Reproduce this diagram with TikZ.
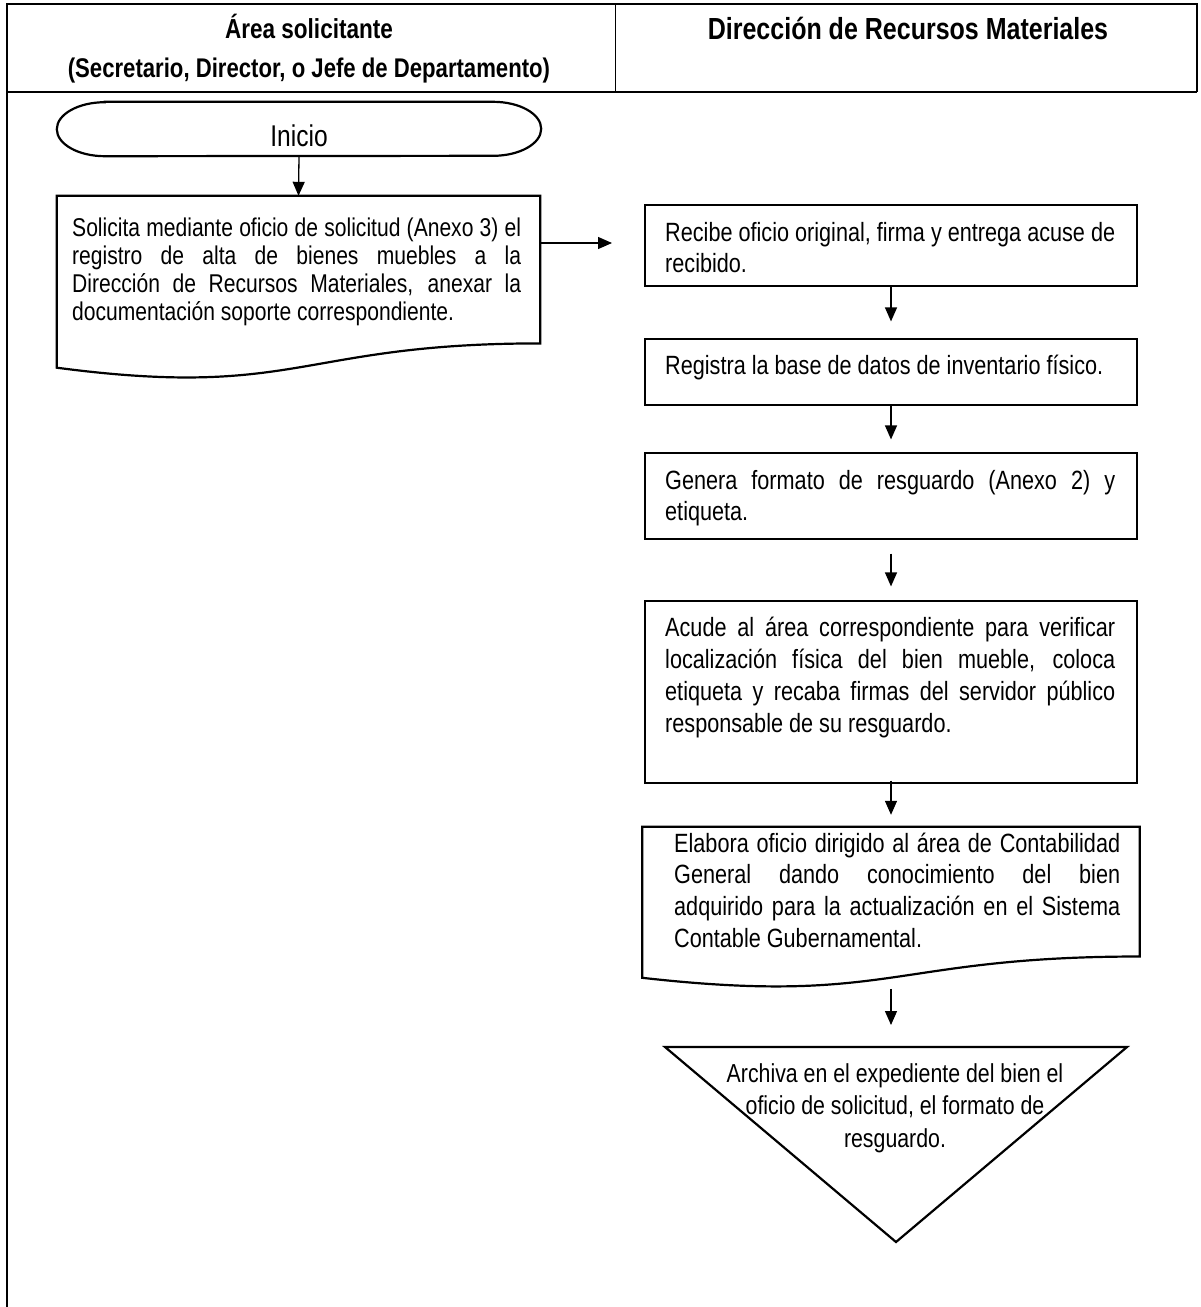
\documentclass[tikz,border=0pt]{standalone}
\usepackage{fontspec}
\setmainfont{Liberation Sans}[FakeStretch=0.82]
\usetikzlibrary{arrows.meta,positioning,calc}

\begin{document}
\begin{tikzpicture}[x=1pt,y=-1pt,
  font=\fontsize{26.4}{31.5}\selectfont,
  >={Triangle[length=14pt,width=12pt]},
  tableline/.style={line width=2.4pt},
  lane/.style={font=\bfseries\fontsize{27}{30}\selectfont,inner sep=0pt},
  stepbox/.style={draw,line width=1.2pt,inner sep=0pt,minimum width=492pt},
  outline/.style={line width=2.2pt},
  steptext/.style={anchor=base west,inner sep=0pt,text width=450pt,align=justify},
  flow/.style={->,line width=1.3pt}
]
\useasboundingbox (0,0) rectangle (1200,1307);
% table frame and lane titles
\draw[tableline] (7,1307) -- (7,4) -- (1197,4) -- (1197,92);
\draw[tableline] (7,92) -- (1197,92);
\draw[line width=1pt] (615,4) -- (615,92);
\node[lane,font=\bfseries\fontsize{27.5}{30}\selectfont] (area) at (309,26) {Área solicitante};
\node[lane] (cargo) at (309,71) {(Secretario, Director, o Jefe de Departamento)};
\node[lane,font=\bfseries\fontsize{30.5}{32}\selectfont] (drm) at (908,28) {Dirección de Recursos Materiales};

% left lane
\node[minimum width=484pt,minimum height=54pt,inner sep=0pt] (inicio) at (299,129) {};
\draw[outline] ([xshift=48pt]inicio.north west) -- ([xshift=-48pt]inicio.north east)
  arc[start angle=90,end angle=-90,x radius=48pt,y radius=27pt]
  -- ([xshift=48pt]inicio.south west)
  arc[start angle=270,end angle=90,x radius=48pt,y radius=27pt] -- cycle;
\node[anchor=base,inner sep=0pt,font=\fontsize{30}{32}\selectfont] (iniciotxt) at (299,146) {Inicio};
\node[minimum width=483pt,minimum height=184pt,inner sep=0pt] (sol) at (298.5,288) {};
\draw[outline] ($(sol.north west)+(0,171.9)$) -- (sol.north west) -- (sol.north east)
  -- ($(sol.north east)+(0,147.6)$)
  .. controls ($(sol.north)+(0,147.6)$) and ($(sol.north)+(0,203.7)$) .. ($(sol.north west)+(0,171.9)$) -- cycle;
\node[steptext,text width=449pt,font=\fontsize{25.7}{28.3}\selectfont] (soltxt) at (72,236)
  {Solicita mediante oficio de solicitud (Anexo 3) el\linebreak registro de alta de bienes muebles a la\linebreak Dirección de Recursos Materiales, anexar la\linebreak documentación soporte correspondiente.};

% right lane
\coordinate (entrada) at (612,243);
\node[stepbox,minimum height=81pt] (recibe) at (891,245.5) {};
\node[steptext] (recibetxt) at (665,241)
  {Recibe oficio original, firma y entrega acuse de\linebreak recibido.};
\node[stepbox,minimum height=66pt] (registra) at (891,372) {};
\node[steptext] (registratxt) at (665,374) {Registra la base de datos de inventario físico.};
\node[stepbox,minimum height=86pt] (genera) at (891,496) {};
\node[steptext] (generatxt) at (665,489)
  {Genera formato de resguardo (Anexo 2) y\linebreak etiqueta.};
\node[stepbox,minimum height=182pt] (acude) at (891,692) {};
\node[steptext,font=\fontsize{26.4}{32}\selectfont] (acudetxt) at (665,636)
  {Acude al área correspondiente para verificar\linebreak localización física del bien mueble, coloca\linebreak etiqueta y recaba firmas del servidor público\linebreak responsable de su resguardo.};
\node[minimum width=497pt,minimum height=161.7pt,inner sep=0pt] (elabora) at (891,907.85) {};
\draw[outline] ($(elabora.north west)+(0,151)$) -- (elabora.north west) -- (elabora.north east)
  -- ($(elabora.north east)+(0,129.7)$)
  .. controls ($(elabora.north)+(0,129.7)$) and ($(elabora.north)+(0,179)$) .. ($(elabora.north west)+(0,151)$) -- cycle;
\node[steptext,text width=446pt,font=\fontsize{26.4}{31.7}\selectfont] (elaboratxt) at (674,852)
  {Elabora oficio dirigido al área de Contabilidad\linebreak General dando conocimiento del bien\linebreak adquirido para la actualización en el Sistema\linebreak Contable Gubernamental.};
\coordinate (archiva) at (895,1047);
\draw[outline] ($(archiva)+(-230,0)$) -- ($(archiva)+(232,0)$) -- ($(archiva)+(1,195)$) -- cycle;
\node[anchor=north,inner sep=0pt,align=center,font=\fontsize{26}{32.5}\selectfont] (archivatxt) at (895,1063)
  {Archiva en el expediente del bien el\\oficio de solicitud, el formato de\\resguardo.};

% connectors
\draw[flow] (inicio.south) -- (sol.north);
\draw[flow] (sol.east |- entrada) -- (entrada);
\draw[flow,shorten >=17pt] (recibe) -- (registra);
\draw[flow,shorten >=13pt] (registra) -- (genera);
\draw[flow,shorten <=14pt,shorten >=14pt] (genera) -- (acude);
\draw[flow,shorten <=-3pt,shorten >=12pt] (acude) -- (elabora);
\draw[flow,shorten >=22pt] (elabora.south) -- (elabora.south |- archiva);
\end{tikzpicture}
\end{document}
